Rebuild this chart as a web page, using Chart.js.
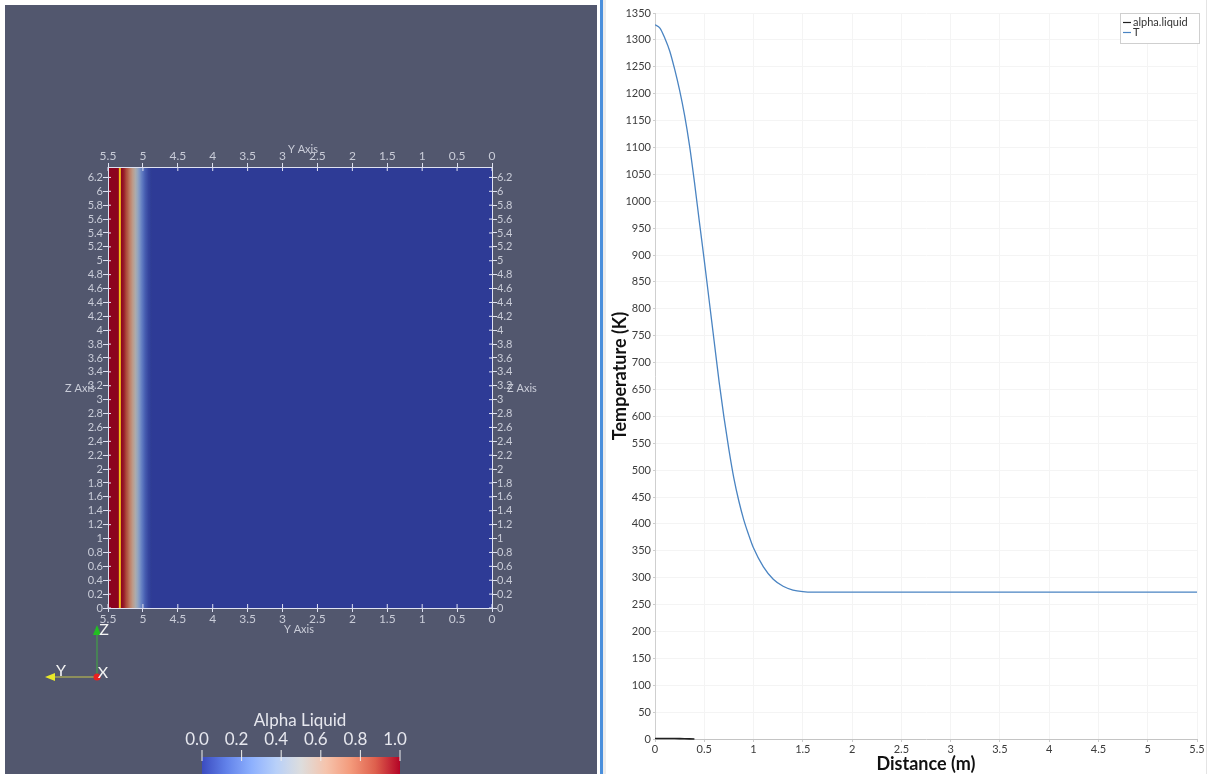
<!DOCTYPE html>
<html>
<head>
<meta charset="utf-8">
<title>Alpha Liquid / Temperature</title>
<script src="https://cdn.jsdelivr.net/npm/chart.js@4.4.1/dist/chart.umd.min.js"></script>
<style>
  html, body { margin: 0; padding: 0; background: #fff; }
  #page { position: relative; width: 1210px; height: 774px; overflow: hidden; }
  #leftPanel { position: absolute; left: 5px; top: 5px; width: 592px; height: 769px; background: #52576e; }
  #leftWrap { position: absolute; left: 0; top: 0; width: 600px; height: 774px; }
  #divider { position: absolute; left: 600px; top: 0; width: 3px; height: 774px; background: #4a8fdc; }
  #dividerShade { position: absolute; left: 603px; top: 0; width: 3px; height: 774px; background: #ececec; }
  #rightWrap { position: absolute; left: 605px; top: 0; width: 605px; height: 774px; }
  #rightEdge { position: absolute; left: 1206px; top: 0; width: 1px; height: 774px; background: #e4e4e4; }
</style>
</head>
<body>
<div id="page">
  <div id="leftPanel"></div>
  <div id="leftWrap"><canvas id="fieldChart"></canvas></div>
  <div id="divider"></div>
  <div id="dividerShade"></div>
  <div id="rightWrap"><canvas id="lineChart"></canvas></div>
  <div id="rightEdge"></div>
</div>
<script>
// --- left view: alpha.liquid field on the Y-Z plane ---
const yAxisTicks = [5.5, 5, 4.5, 4, 3.5, 3, 2.5, 2, 1.5, 1, 0.5, 0];
const zAxisTicks = [0, 0.2, 0.4, 0.6, 0.8, 1, 1.2, 1.4, 1.6, 1.8, 2, 2.2, 2.4, 2.6, 2.8, 3,
  3.2, 3.4, 3.6, 3.8, 4, 4.2, 4.4, 4.6, 4.8, 5, 5.2, 5.4, 5.6, 5.8, 6, 6.2];
const yMin = 0, yMax = 5.5, zMin = 0, zMax = 6.35;

// alpha profile across Y (constant along Z)
const fieldY     = [5.5, 5.31, 5.27, 5.22, 5.17, 5.12, 5.07, 5.02, 4.97, 4.92, 4.88, 0];
const fieldAlpha = [1,   1,    0.95, 0.83, 0.68, 0.54, 0.38, 0.22, 0.1,  0.03, 0,    0];
const probeY = 5.33;

// colour bar
const barTicks = [0, 0.2, 0.4, 0.6, 0.8, 1];
const barTitle = "Alpha Liquid";

// cool to warm colour map
const cmapPos = [0, 0.125, 0.25, 0.375, 0.5, 0.625, 0.75, 0.875, 1];
const cmapRGB = [[59, 76, 192], [98, 130, 234], [141, 176, 254], [184, 208, 249], [221, 221, 221],
  [245, 196, 173], [244, 154, 123], [222, 96, 77], [180, 4, 38]];

// --- right view: plot over line ---
const distT = [0, 0.05, 0.1, 0.15, 0.2, 0.25, 0.3, 0.35, 0.4, 0.45, 0.5, 0.55, 0.6, 0.65, 0.7,
  0.75, 0.8, 0.85, 0.9, 0.95, 1.0, 1.1, 1.2, 1.3, 1.4, 1.5, 1.6, 1.8, 2.0, 3.0, 4.0, 5.0, 5.5];
const tempT = [1328, 1322, 1303, 1279, 1245, 1206, 1160, 1104, 1036, 962, 890, 815, 740, 665, 598,
  538, 485, 443, 408, 380, 355, 320, 297, 284, 277, 274, 273, 273, 273, 273, 273, 273, 273];
// alpha.liquid is only visible where it lifts off the axis
const distAlpha = [0, 0.1, 0.2, 0.25, 0.3, 0.35, 0.4];
const alphaLine = [1, 1, 0.9, 0.7, 0.4, 0.15, 0];

Chart.defaults.font.family = "Lato";

function fmt(v) { return String(parseFloat(Number(v).toFixed(2))); }

function cmap(a, shade) {
  let i = 0;
  while (i < cmapPos.length - 2 && a > cmapPos[i + 1]) i++;
  const t = (a - cmapPos[i]) / (cmapPos[i + 1] - cmapPos[i]);
  const c = cmapRGB[i].map((v, k) => Math.round((v + (cmapRGB[i + 1][k] - v) * t) * shade));
  return `rgb(${c[0]},${c[1]},${c[2]})`;
}

const fieldPlugin = {
  id: "field",
  beforeDraw(chart) {
    const { ctx, chartArea: a, scales } = chart;
    const x = scales.x;
    ctx.save();
    for (let i = 0; i < fieldY.length - 1; i++) {
      const p0 = x.getPixelForValue(fieldY[i]);
      const p1 = x.getPixelForValue(fieldY[i + 1]);
      const g = ctx.createLinearGradient(p0, 0, p1, 0);
      for (let k = 0; k <= 6; k++) {
        const t = k / 6;
        g.addColorStop(t, cmap(fieldAlpha[i] + (fieldAlpha[i + 1] - fieldAlpha[i]) * t, 0.78));
      }
      ctx.fillStyle = g;
      ctx.fillRect(Math.min(p0, p1), a.top, Math.abs(p1 - p0) + 0.6, a.bottom - a.top);
    }
    ctx.restore();
  },
  afterDraw(chart) {
    const { ctx, chartArea: a, scales } = chart;
    ctx.save();
    ctx.strokeStyle = "#dfe2f2";
    ctx.lineWidth = 1;
    // inner half of the cross-shaped ticks
    ctx.beginPath();
    yAxisTicks.forEach(v => {
      const px = scales.x.getPixelForValue(v);
      ctx.moveTo(px, a.top); ctx.lineTo(px, a.top + 4);
      ctx.moveTo(px, a.bottom); ctx.lineTo(px, a.bottom - 4);
    });
    zAxisTicks.forEach(v => {
      const py = scales.y.getPixelForValue(v);
      ctx.moveTo(a.left, py); ctx.lineTo(a.left + 3, py);
      ctx.moveTo(a.right, py); ctx.lineTo(a.right - 3, py);
    });
    ctx.stroke();

    // axis titles
    ctx.fillStyle = "#c9ccd8";
    ctx.font = "11px Lato";
    ctx.textAlign = "center";
    ctx.textBaseline = "middle";
    const cx = (a.left + a.right) / 2, cy = (a.top + a.bottom) / 2;
    ctx.fillText("Y Axis", cx + 3, a.top - 18);
    ctx.fillText("Y Axis", cx - 1, a.bottom + 21);
    ctx.fillText("Z Axis", a.left - 28, cy + 1);
    ctx.fillText("Z Axis", a.right + 30, cy + 1);

    // orientation triad
    const ox = 97, oy = 677;
    ctx.lineWidth = 1;
    ctx.strokeStyle = "#3fae3f";
    ctx.beginPath(); ctx.moveTo(ox, oy); ctx.lineTo(ox, oy - 44); ctx.stroke();
    ctx.fillStyle = "#22c022";
    ctx.beginPath(); ctx.moveTo(ox, oy - 52); ctx.lineTo(ox - 4, oy - 42); ctx.lineTo(ox + 4, oy - 42); ctx.closePath(); ctx.fill();
    ctx.strokeStyle = "#c8c84a";
    ctx.beginPath(); ctx.moveTo(ox, oy); ctx.lineTo(ox - 42, oy); ctx.stroke();
    ctx.fillStyle = "#e8e82a";
    ctx.beginPath(); ctx.moveTo(ox - 52, oy); ctx.lineTo(ox - 42, oy - 4); ctx.lineTo(ox - 42, oy + 4); ctx.closePath(); ctx.fill();
    ctx.fillStyle = "#e82020";
    ctx.beginPath(); ctx.arc(ox, oy, 3.5, 0, Math.PI * 2); ctx.fill();
    ctx.fillStyle = "#f4f4f4";
    ctx.font = "16px Lato";
    ctx.fillText("Z", ox + 7, oy - 47);
    ctx.fillText("X", ox + 6, oy - 4);
    ctx.fillText("Y", ox - 36, oy - 6);

    // colour bar
    const bx0 = 202, bx1 = 400, by0 = 757, by1 = 776;
    const g = ctx.createLinearGradient(bx0, 0, bx1, 0);
    for (let k = 0; k <= 32; k++) g.addColorStop(k / 32, cmap(k / 32, 1));
    ctx.fillStyle = g;
    ctx.fillRect(bx0, by0, bx1 - bx0, by1 - by0);
    ctx.strokeStyle = "#f0f0f0";
    ctx.beginPath();
    barTicks.forEach(v => {
      const px = bx0 + (bx1 - bx0) * v;
      ctx.moveTo(px, 750); ctx.lineTo(px, 761);
    });
    ctx.stroke();
    ctx.fillStyle = "#e6e7ee";
    ctx.font = "17px Lato";
    barTicks.forEach(v => {
      const px = bx0 + (bx1 - bx0) * v;
      ctx.fillText(v.toFixed(1), px - 5, 740);
    });
    ctx.fillText(barTitle, 300, 721);
    ctx.restore();
  }
};

function fieldAxisX(pos) {
  return {
    type: "linear", position: pos, min: yMin, max: yMax, reverse: true,
    afterBuildTicks: s => { s.ticks = yAxisTicks.map(v => ({ value: v })); },
    afterFit: s => { s.height = pos === "top" ? 167 : 166; },
    grid: { drawOnChartArea: false, tickLength: 4, tickColor: "#dfe2f2" },
    border: { display: true, color: "#dfe2f2", width: 1, z: 1 },
    ticks: { color: "#c9ccd8", font: { size: 12 }, padding: 0, maxRotation: 0, autoSkip: false, callback: fmt }
  };
}

function fieldAxisZ(pos) {
  return {
    type: "linear", position: pos, min: zMin, max: zMax,
    afterBuildTicks: s => { s.ticks = zAxisTicks.map(v => ({ value: v })); },
    afterFit: s => { s.width = 108; },
    grid: { drawOnChartArea: false, tickLength: 5, tickColor: "#dfe2f2" },
    border: { display: true, color: "#dfe2f2", width: 1, z: 1 },
    ticks: { color: "#c9ccd8", font: { size: 11 }, padding: 0, autoSkip: false, callback: fmt }
  };
}

new Chart(document.getElementById("fieldChart"), {
  type: "scatter",
  data: {
    datasets: [{
      label: "probe line",
      data: [{ x: probeY, y: zMin }, { x: probeY, y: zMax }],
      showLine: true, borderColor: "#f5c21a", borderWidth: 2, pointRadius: 0,
      xAxisID: "x", yAxisID: "y"
    }]
  },
  options: {
    responsive: true, maintainAspectRatio: false, animation: false,
    layout: { padding: 0 },
    plugins: { legend: { display: false }, tooltip: { enabled: false } },
    scales: {
      x: fieldAxisX("bottom"),
      x2: fieldAxisX("top"),
      y: fieldAxisZ("left"),
      y2: fieldAxisZ("right")
    }
  },
  plugins: [fieldPlugin]
});

// legend drawn as a small framed box in the top right corner of the plot
const legendBox = {
  id: "legendBox",
  afterDraw(chart) {
    const { ctx, chartArea: a } = chart;
    const w = 79, h = 30, x0 = a.right + 2 - w, y0 = a.top;
    ctx.save();
    ctx.fillStyle = "#fff";
    ctx.fillRect(x0, y0, w, h);
    ctx.strokeStyle = "#cfcfcf";
    ctx.lineWidth = 1;
    ctx.strokeRect(x0 + 0.5, y0 + 0.5, w, h);
    ctx.font = "11px Lato";
    ctx.textBaseline = "middle";
    chart.data.datasets.forEach((ds, i) => {
      const y = y0 + 9 + i * 10;
      ctx.strokeStyle = ds.borderColor;
      ctx.lineWidth = 1.2;
      ctx.beginPath(); ctx.moveTo(x0 + 3, y + 0.5); ctx.lineTo(x0 + 11, y + 0.5); ctx.stroke();
      ctx.fillStyle = "#333";
      ctx.fillText(ds.label, x0 + 13, y);
    });
    ctx.restore();
  }
};

new Chart(document.getElementById("lineChart"), {
  type: "line",
  data: {
    datasets: [
      {
        label: "alpha.liquid",
        data: distAlpha.map((d, i) => ({ x: d, y: alphaLine[i] })),
        borderColor: "#202020", borderWidth: 1.6, pointRadius: 0, clip: false
      },
      {
        label: "T",
        data: distT.map((d, i) => ({ x: d, y: tempT[i] })),
        borderColor: "#4a84c2", borderWidth: 1.3, pointRadius: 0,
        cubicInterpolationMode: "monotone"
      }
    ]
  },
  options: {
    responsive: true, maintainAspectRatio: false, animation: false,
    layout: { padding: { top: 13, right: 13, left: 0, bottom: 0 } },
    plugins: { legend: { display: false }, tooltip: { enabled: false } },
    scales: {
      x: {
        type: "linear", min: 0, max: 5.5,
        afterFit: s => { s.height = 35; },
        grid: { color: "#f4f4f4", tickLength: 3, tickColor: "#cccccc" },
        border: { color: "#c4c4c4" },
        ticks: { stepSize: 0.5, color: "#3c3c3c", font: { size: 11 }, padding: 1, maxRotation: 0, callback: fmt },
        title: {
          display: true, text: "Distance (m)", color: "#111",
          font: { size: 18, weight: "bold", lineHeight: 1.1 }, padding: { top: 0, bottom: 0 }
        }
      },
      y: {
        type: "linear", min: 0, max: 1350,
        afterFit: s => { s.width = 50; },
        grid: { color: "#f4f4f4", tickLength: 2, tickColor: "#cccccc" },
        border: { color: "#cfcfcf" },
        ticks: { stepSize: 50, color: "#3c3c3c", font: { size: 11 }, padding: 2, autoSkip: false, callback: fmt },
        title: {
          display: true, text: "Temperature (K)", color: "#111",
          font: { size: 18, weight: "bold", lineHeight: 1.2 }, padding: { top: 4, bottom: 0 }
        }
      }
    }
  },
  plugins: [legendBox]
});
</script>
</body>
</html>
